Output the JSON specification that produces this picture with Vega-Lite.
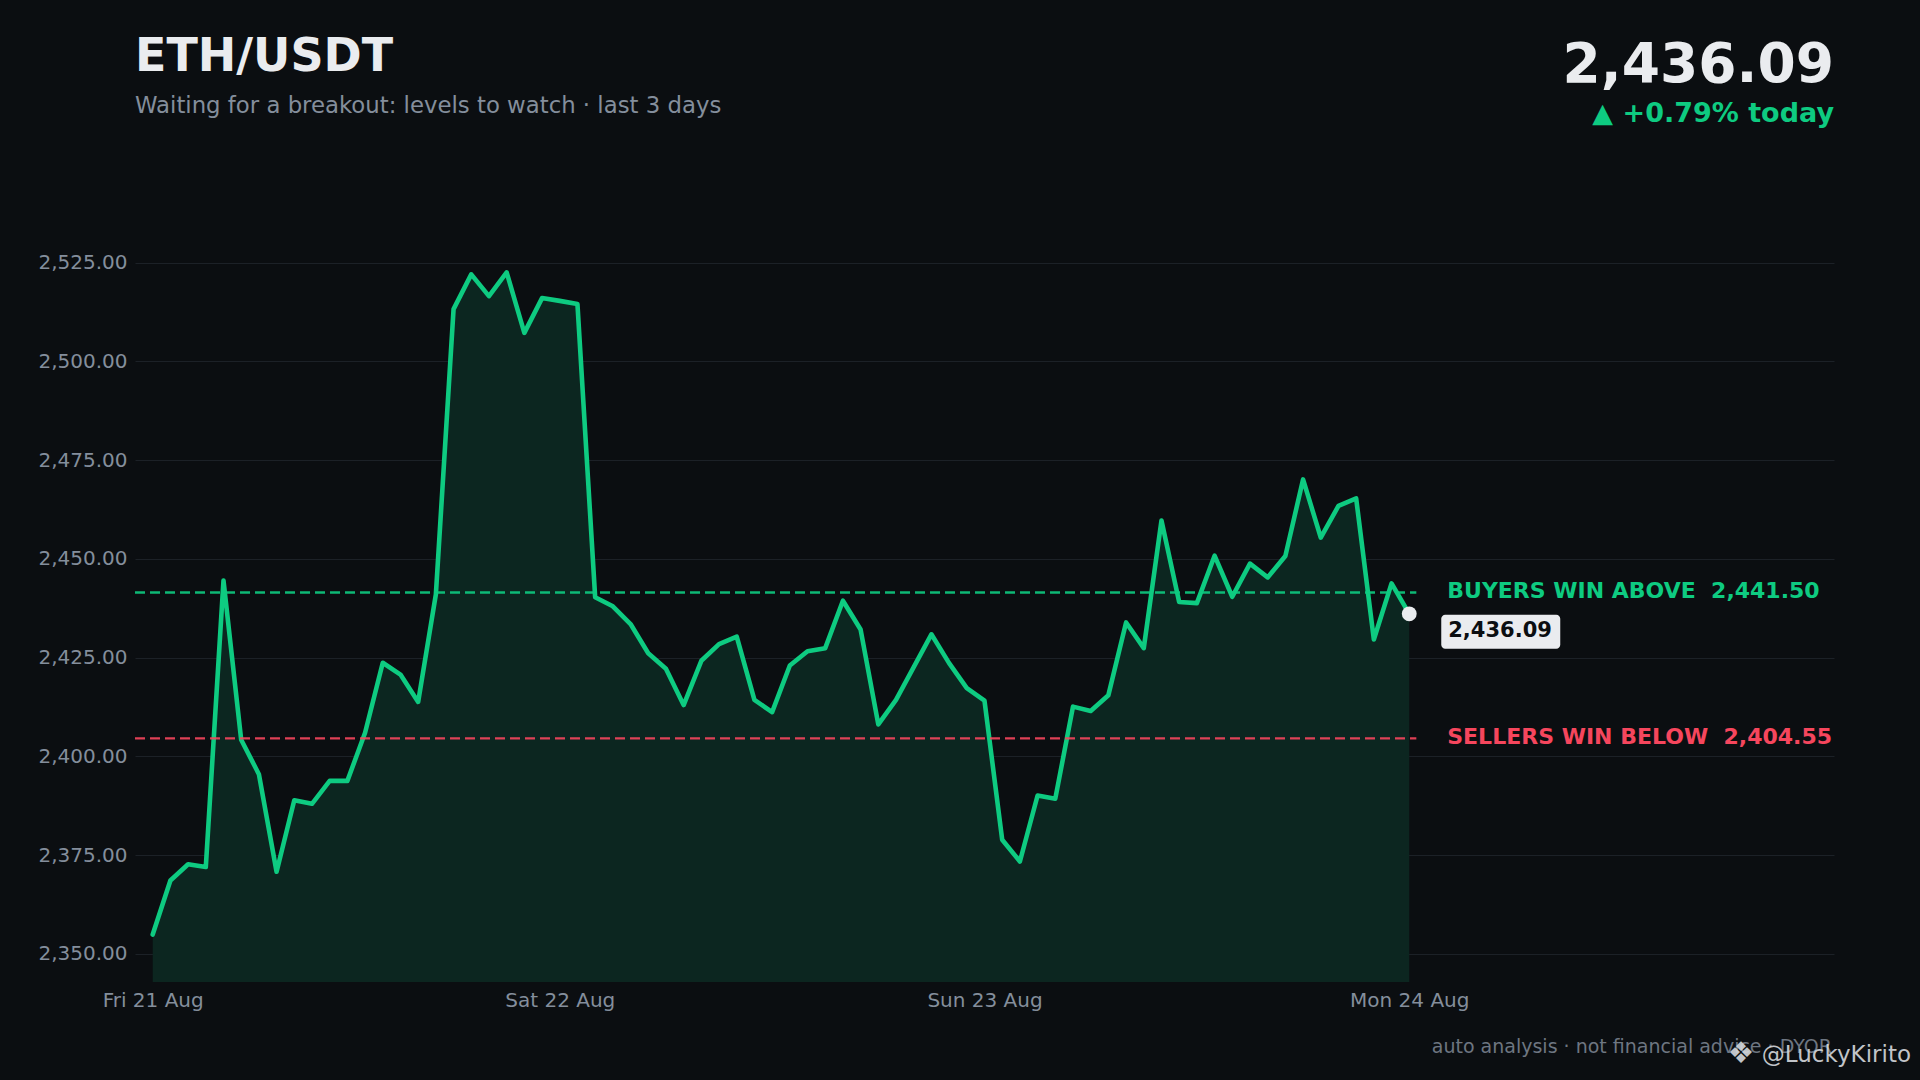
{
  "$schema": "https://vega.github.io/schema/vega-lite/v6.json",
  "autosize": "none",
  "width": 1699,
  "height": 757,
  "padding": {"left": 135, "top": 225, "right": 86, "bottom": 98},
  "background": "#0b0e11",
  "config": {
    "font": "DejaVu Sans",
    "view": {"stroke": null},
    "axis": {
      "labelFont": "DejaVu Sans",
      "labelFontSize": 20,
      "labelColor": "#848e9c",
      "domain": false,
      "ticks": false,
      "tickSize": 0,
      "title": null
    }
  },
  "datasets": {
    "prices": [
      {"t": "2026-08-21T01:00:00", "price": 2354.9},
      {"t": "2026-08-21T02:00:00", "price": 2368.6},
      {"t": "2026-08-21T03:00:00", "price": 2372.7},
      {"t": "2026-08-21T04:00:00", "price": 2372.0},
      {"t": "2026-08-21T05:00:00", "price": 2444.5},
      {"t": "2026-08-21T06:00:00", "price": 2404.2},
      {"t": "2026-08-21T07:00:00", "price": 2395.5},
      {"t": "2026-08-21T08:00:00", "price": 2370.8},
      {"t": "2026-08-21T09:00:00", "price": 2388.9},
      {"t": "2026-08-21T10:00:00", "price": 2388.0},
      {"t": "2026-08-21T11:00:00", "price": 2393.8},
      {"t": "2026-08-21T12:00:00", "price": 2393.8},
      {"t": "2026-08-21T13:00:00", "price": 2406.0},
      {"t": "2026-08-21T14:00:00", "price": 2423.7},
      {"t": "2026-08-21T15:00:00", "price": 2420.7},
      {"t": "2026-08-21T16:00:00", "price": 2413.8},
      {"t": "2026-08-21T17:00:00", "price": 2441.0},
      {"t": "2026-08-21T18:00:00", "price": 2513.2},
      {"t": "2026-08-21T19:00:00", "price": 2522.0},
      {"t": "2026-08-21T20:00:00", "price": 2516.5},
      {"t": "2026-08-21T21:00:00", "price": 2522.5},
      {"t": "2026-08-21T22:00:00", "price": 2507.2},
      {"t": "2026-08-21T23:00:00", "price": 2516.0},
      {"t": "2026-08-22T00:00:00", "price": 2515.3},
      {"t": "2026-08-22T01:00:00", "price": 2514.5},
      {"t": "2026-08-22T02:00:00", "price": 2440.3},
      {"t": "2026-08-22T03:00:00", "price": 2438.0},
      {"t": "2026-08-22T04:00:00", "price": 2433.5},
      {"t": "2026-08-22T05:00:00", "price": 2426.1},
      {"t": "2026-08-22T06:00:00", "price": 2422.2},
      {"t": "2026-08-22T07:00:00", "price": 2413.0},
      {"t": "2026-08-22T08:00:00", "price": 2424.2},
      {"t": "2026-08-22T09:00:00", "price": 2428.4},
      {"t": "2026-08-22T10:00:00", "price": 2430.3},
      {"t": "2026-08-22T11:00:00", "price": 2414.3},
      {"t": "2026-08-22T12:00:00", "price": 2411.2},
      {"t": "2026-08-22T13:00:00", "price": 2423.0},
      {"t": "2026-08-22T14:00:00", "price": 2426.6},
      {"t": "2026-08-22T15:00:00", "price": 2427.4},
      {"t": "2026-08-22T16:00:00", "price": 2439.4},
      {"t": "2026-08-22T17:00:00", "price": 2432.1},
      {"t": "2026-08-22T18:00:00", "price": 2408.1},
      {"t": "2026-08-22T19:00:00", "price": 2414.3},
      {"t": "2026-08-22T20:00:00", "price": 2422.6},
      {"t": "2026-08-22T21:00:00", "price": 2430.9},
      {"t": "2026-08-22T22:00:00", "price": 2423.6},
      {"t": "2026-08-22T23:00:00", "price": 2417.3},
      {"t": "2026-08-23T00:00:00", "price": 2414.1},
      {"t": "2026-08-23T01:00:00", "price": 2378.9},
      {"t": "2026-08-23T02:00:00", "price": 2373.4},
      {"t": "2026-08-23T03:00:00", "price": 2390.1},
      {"t": "2026-08-23T04:00:00", "price": 2389.3},
      {"t": "2026-08-23T05:00:00", "price": 2412.6},
      {"t": "2026-08-23T06:00:00", "price": 2411.5},
      {"t": "2026-08-23T07:00:00", "price": 2415.5},
      {"t": "2026-08-23T08:00:00", "price": 2433.9},
      {"t": "2026-08-23T09:00:00", "price": 2427.4},
      {"t": "2026-08-23T10:00:00", "price": 2459.7},
      {"t": "2026-08-23T11:00:00", "price": 2439.1},
      {"t": "2026-08-23T12:00:00", "price": 2438.8},
      {"t": "2026-08-23T13:00:00", "price": 2450.8},
      {"t": "2026-08-23T14:00:00", "price": 2440.4},
      {"t": "2026-08-23T15:00:00", "price": 2448.8},
      {"t": "2026-08-23T16:00:00", "price": 2445.3},
      {"t": "2026-08-23T17:00:00", "price": 2450.7},
      {"t": "2026-08-23T18:00:00", "price": 2470.1},
      {"t": "2026-08-23T19:00:00", "price": 2455.4},
      {"t": "2026-08-23T20:00:00", "price": 2463.4},
      {"t": "2026-08-23T21:00:00", "price": 2465.3},
      {"t": "2026-08-23T22:00:00", "price": 2429.6},
      {"t": "2026-08-23T23:00:00", "price": 2443.8},
      {"t": "2026-08-24T00:00:00", "price": 2436.09}
    ],
    "levels": [
      {"kind": "buyers", "label": "BUYERS WIN ABOVE \u00a02,441.50", "value": 2441.5},
      {"kind": "sellers", "label": "SELLERS WIN BELOW \u00a02,404.55", "value": 2404.55}
    ]
  },
  "layer": [
    {
      "data": {"name": "prices"},
      "mark": {"type": "area", "fill": "#0c2620", "opacity": 1},
      "encoding": {
        "x": {
          "field": "t",
          "type": "temporal",
          "scale": {"domain": [{"year": 2026, "month": 8, "date": 21}, {"year": 2026, "month": 8, "date": 25}]},
          "axis": {
            "values": [
              {"year": 2026, "month": 8, "date": 21, "hours": 1},
              {"year": 2026, "month": 8, "date": 22},
              {"year": 2026, "month": 8, "date": 23},
              {"year": 2026, "month": 8, "date": 24}
            ],
            "format": "%a %d %b",
            "grid": false,
            "labelPadding": 8,
            "labelFlush": false
          }
        },
        "y": {
          "field": "price",
          "type": "quantitative",
          "scale": {"domain": [2342.9, 2534.5], "zero": false, "nice": false},
          "axis": {
            "values": [2350, 2375, 2400, 2425, 2450, 2475, 2500, 2525],
            "format": ",.2f",
            "grid": true,
            "gridColor": "#1c2127",
            "gridWidth": 1,
            "labelPadding": 8
          }
        },
        "y2": {"datum": 2342.9}
      }
    },
    {
      "data": {"name": "prices"},
      "mark": {"type": "line", "stroke": "#0ecb81", "strokeWidth": 4.6, "strokeJoin": "round", "strokeCap": "round"},
      "encoding": {
        "x": {"field": "t", "type": "temporal"},
        "y": {"field": "price", "type": "quantitative"}
      }
    },
    {
      "data": {"name": "levels"},
      "mark": {"type": "rule", "strokeWidth": 2.4, "strokeDash": [10, 5], "opacity": 0.9},
      "encoding": {
        "x": {"datum": {"year": 2026, "month": 8, "date": 21}},
        "x2": {"datum": {"year": 2026, "month": 8, "date": 24, "minutes": 24}},
        "y": {"field": "value", "type": "quantitative"},
        "color": {"field": "kind", "type": "nominal", "scale": {"domain": ["buyers", "sellers"], "range": ["#0ecb81", "#f6465d"]}, "legend": null}
      }
    },
    {
      "data": {"name": "levels"},
      "mark": {"type": "text", "align": "left", "baseline": "middle", "dx": 38, "dy": -1, "fontSize": 22, "fontWeight": "bold"},
      "encoding": {
        "x": {"datum": {"year": 2026, "month": 8, "date": 24}},
        "y": {"field": "value", "type": "quantitative"},
        "text": {"field": "label"},
        "color": {"field": "kind", "type": "nominal", "legend": null}
      }
    },
    {
      "data": {"name": "prices"},
      "transform": [{"filter": "datum.price == 2436.09"}],
      "mark": {"type": "rect", "fill": "#eaecef", "cornerRadius": 4, "xOffset": 32, "x2Offset": 151, "yOffset": 1, "y2Offset": 35},
      "encoding": {
        "x": {"field": "t", "type": "temporal"},
        "x2": {"field": "t"},
        "y": {"field": "price", "type": "quantitative"},
        "y2": {"field": "price"}
      }
    },
    {
      "data": {"name": "prices"},
      "transform": [{"filter": "datum.price == 2436.09"}],
      "mark": {"type": "text", "align": "left", "baseline": "middle", "dx": 39, "dy": 17, "fontSize": 21, "fontWeight": "bold", "fill": "#0b0e11"},
      "encoding": {
        "x": {"field": "t", "type": "temporal"},
        "y": {"field": "price", "type": "quantitative"},
        "text": {"field": "price", "format": ",.2f"}
      }
    },
    {
      "data": {"name": "prices"},
      "transform": [{"filter": "datum.price == 2436.09"}],
      "mark": {"type": "point", "filled": true, "fill": "#eaecef", "size": 220, "opacity": 1, "strokeWidth": 0},
      "encoding": {
        "x": {"field": "t", "type": "temporal"},
        "y": {"field": "price", "type": "quantitative"}
      }
    },
    {
      "data": {"values": [{"text": "ETH/USDT"}]},
      "mark": {"type": "text", "align": "left", "baseline": "alphabetic", "fontSize": 46, "fontWeight": "bold", "fill": "#eaecef"},
      "encoding": {
        "x": {"datum": {"year": 2026, "month": 8, "date": 21}},
        "y": {"datum": 2573.4},
        "text": {"field": "text"}
      }
    },
    {
      "data": {"values": [{"text": "Waiting for a breakout: levels to watch · last 3 days"}]},
      "mark": {"type": "text", "align": "left", "baseline": "alphabetic", "fontSize": 22.8, "fill": "#848e9c"},
      "encoding": {
        "x": {"datum": {"year": 2026, "month": 8, "date": 21}},
        "y": {"datum": 2562.8},
        "text": {"field": "text"}
      }
    },
    {
      "data": {"values": [{"text": "2,436.09"}]},
      "mark": {"type": "text", "align": "right", "baseline": "alphabetic", "fontSize": 55, "fontWeight": "bold", "fill": "#eaecef"},
      "encoding": {
        "x": {"datum": {"year": 2026, "month": 8, "date": 25}},
        "y": {"datum": 2570.8},
        "text": {"field": "text"}
      }
    },
    {
      "data": {"values": [{"text": "▲ +0.79% today"}]},
      "mark": {"type": "text", "align": "right", "baseline": "alphabetic", "fontSize": 27, "fontWeight": "bold", "fill": "#0ecb81"},
      "encoding": {
        "x": {"datum": {"year": 2026, "month": 8, "date": 25}},
        "y": {"datum": 2560.45},
        "text": {"field": "text"}
      }
    },
    {
      "data": {"values": [{"text": "auto analysis · not financial advice · DYOR"}]},
      "mark": {"type": "text", "align": "right", "baseline": "alphabetic", "fontSize": 19, "fill": "#6e7681", "dx": -2},
      "encoding": {
        "x": {"datum": {"year": 2026, "month": 8, "date": 25}},
        "y": {"datum": 2325.0},
        "text": {"field": "text"}
      }
    },
    {
      "data": {"values": [{"text": "❖"}]},
      "mark": {"type": "text", "align": "center", "baseline": "middle", "fontSize": 30, "fill": "#d5d8dc", "opacity": 0.9, "dx": -93},
      "encoding": {
        "x": {"datum": {"year": 2026, "month": 8, "date": 25}},
        "y": {"datum": 2324.8},
        "text": {"field": "text"}
      }
    },
    {
      "data": {"values": [{"text": "@LuckyKirito"}]},
      "mark": {"type": "text", "align": "right", "baseline": "alphabetic", "fontSize": 23, "fill": "#d5d8dc", "opacity": 0.9, "dx": 77},
      "encoding": {
        "x": {"datum": {"year": 2026, "month": 8, "date": 25}},
        "y": {"datum": 2322.6},
        "text": {"field": "text"}
      }
    }
  ]
}
